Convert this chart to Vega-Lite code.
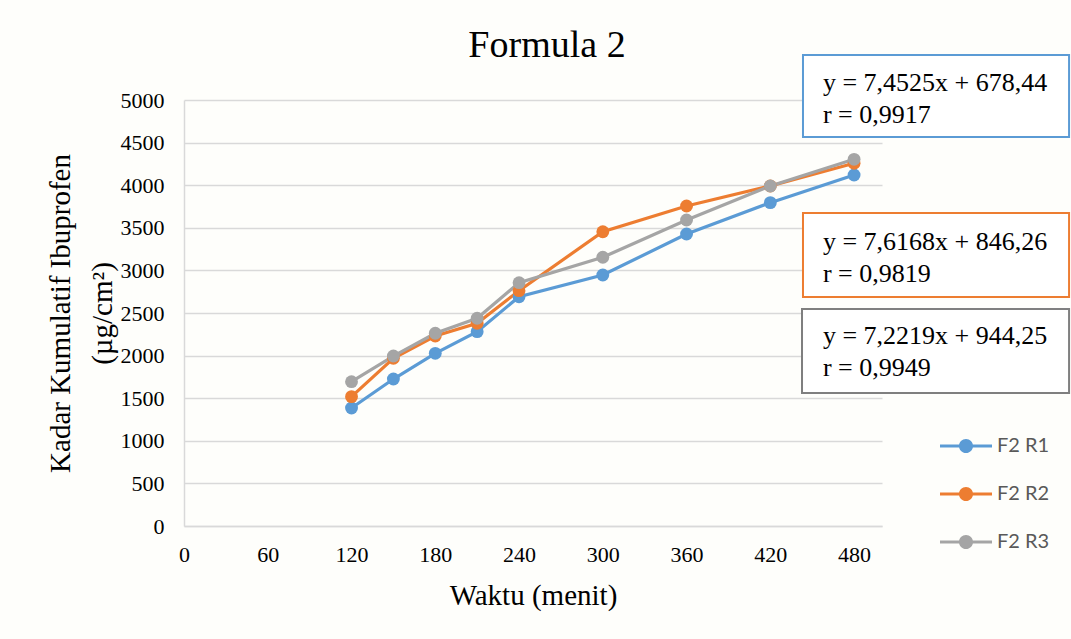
{
  "$schema": "https://vega.github.io/schema/vega-lite/v6.json",
  "width": 698,
  "height": 426,
  "autosize": {"type": "none"},
  "padding": {"left": 184, "top": 100, "right": 189, "bottom": 113},
  "background": "#FEFEFB",
  "title": {"text": "Formula 2", "font": "Liberation Serif", "fontSize": 38, "fontWeight": "normal", "color": "#000000", "anchor": "middle", "dx": 14, "dy": 38, "baseline": "alphabetic", "offset": -3},
  "config": {"view": {"stroke": null}},
  "datasets": {
    "series": [
      {"t": 120, "c": 1385, "series": "F2 R1"},
      {"t": 150, "c": 1725, "series": "F2 R1"},
      {"t": 180, "c": 2027, "series": "F2 R1"},
      {"t": 210, "c": 2281, "series": "F2 R1"},
      {"t": 240, "c": 2691, "series": "F2 R1"},
      {"t": 300, "c": 2946, "series": "F2 R1"},
      {"t": 360, "c": 3427, "series": "F2 R1"},
      {"t": 420, "c": 3795, "series": "F2 R1"},
      {"t": 480, "c": 4120, "series": "F2 R1"},
      {"t": 120, "c": 1518, "series": "F2 R2"},
      {"t": 150, "c": 1968, "series": "F2 R2"},
      {"t": 180, "c": 2230, "series": "F2 R2"},
      {"t": 210, "c": 2379, "series": "F2 R2"},
      {"t": 240, "c": 2762, "series": "F2 R2"},
      {"t": 300, "c": 3454, "series": "F2 R2"},
      {"t": 360, "c": 3756, "series": "F2 R2"},
      {"t": 420, "c": 3991, "series": "F2 R2"},
      {"t": 480, "c": 4257, "series": "F2 R2"},
      {"t": 120, "c": 1694, "series": "F2 R3"},
      {"t": 150, "c": 1995, "series": "F2 R3"},
      {"t": 180, "c": 2262, "series": "F2 R3"},
      {"t": 210, "c": 2438, "series": "F2 R3"},
      {"t": 240, "c": 2856, "series": "F2 R3"},
      {"t": 300, "c": 3154, "series": "F2 R3"},
      {"t": 360, "c": 3592, "series": "F2 R3"},
      {"t": 420, "c": 3991, "series": "F2 R3"},
      {"t": 480, "c": 4304, "series": "F2 R3"}
    ],
    "boxes": [
      {"series": "F2 R1", "x0": 443.4, "x1": 634, "y0": 5528, "y1": 4566, "tx": 457.7, "ty": 5106, "label": "y = 7,4525x + 678,44\nr = 0,9917"},
      {"series": "F2 R2", "x0": 443.4, "x1": 634, "y0": 3674, "y1": 2688, "tx": 457.7, "ty": 3239, "label": "y = 7,6168x + 846,26\nr = 0,9819"},
      {"series": "F2 R3", "x0": 442.7, "x1": 634, "y0": 2547, "y1": 1561, "tx": 457.7, "ty": 2136, "label": "y = 7,2219x + 944,25\nr = 0,9949"}
    ]
  },
  "layer": [
    {
      "data": {"name": "series"},
      "mark": {"type": "line", "strokeWidth": 3.2},
      "encoding": {
        "x": {"field": "t", "type": "quantitative", "title": "Waktu (menit)", "scale": {"domain": [0, 500], "nice": false},
          "axis": {"values": [0, 60, 120, 180, 240, 300, 360, 420, 480], "format": "d", "labelFont": "Liberation Serif", "labelFontSize": 22, "labelColor": "#000000", "ticks": false, "domainColor": "#D9D9D9", "domainWidth": 1.5, "grid": false, "labelPadding": 18, "labelFlush": false, "labelOverlap": false, "titleFont": "Liberation Serif", "titleFontSize": 29, "titleFontWeight": "normal", "titleColor": "#000000", "titlePadding": 16}},
        "y": {"field": "c", "type": "quantitative", "title": ["Kadar Kumulatif Ibuprofen", "(µg/cm²)"], "scale": {"domain": [0, 5000], "nice": false},
          "axis": {"values": [0, 500, 1000, 1500, 2000, 2500, 3000, 3500, 4000, 4500, 5000], "format": "d", "labelFont": "Liberation Serif", "labelFontSize": 22, "labelColor": "#000000", "ticks": false, "domainColor": "#D9D9D9", "domainWidth": 1.5, "grid": true, "gridColor": "#D9D9D9", "gridWidth": 1.5, "labelPadding": 20, "labelFlush": false, "titleFont": "Liberation Serif", "titleFontSize": 29, "titleFontWeight": "normal", "titleColor": "#000000", "titlePadding": 3, "titleLineHeight": 42}},
        "color": {"field": "series", "type": "nominal",
          "scale": {"domain": ["F2 R1", "F2 R2", "F2 R3"], "range": ["#5B9BD5", "#ED7D31", "#A5A5A5"]},
          "legend": {"title": null, "orient": "none", "legendX": 769, "legendY": 333, "padding": 0,
            "symbolType": "M-2,-0.115H2V0.115H-2Z M0.54,0A0.54,0.54,0,1,1,-0.54,0A0.54,0.54,0,1,1,0.54,0Z",
            "symbolSize": 676, "symbolStrokeWidth": 0, "labelFont": "Lato", "labelFontSize": 20, "labelColor": "#595959", "labelOffset": 18, "rowPadding": 25,
            "encode": {"symbols": {"update": {"fill": {"scale": "color", "field": "value"}, "stroke": {"value": "transparent"}, "opacity": {"value": 1}}}}}}
      }
    },
    {
      "data": {"name": "series"},
      "mark": {"type": "point", "filled": true, "size": 165, "opacity": 1},
      "encoding": {
        "x": {"field": "t", "type": "quantitative", "title": "Waktu (menit)", "scale": {"domain": [0, 500], "nice": false}},
        "y": {"field": "c", "type": "quantitative", "title": ["Kadar Kumulatif Ibuprofen", "(µg/cm²)"], "scale": {"domain": [0, 5000], "nice": false}},
        "color": {"field": "series", "type": "nominal"}
      }
    },
    {
      "data": {"name": "boxes"},
      "mark": {"type": "rect", "fill": "#FFFFFF", "strokeWidth": 2},
      "encoding": {
        "x": {"field": "x0", "type": "quantitative", "title": "Waktu (menit)", "scale": {"domain": [0, 500], "nice": false}},
        "x2": {"field": "x1"},
        "y": {"field": "y0", "type": "quantitative", "title": ["Kadar Kumulatif Ibuprofen", "(µg/cm²)"], "scale": {"domain": [0, 5000], "nice": false}},
        "y2": {"field": "y1"},
        "stroke": {"field": "series", "type": "nominal", "scale": {"domain": ["F2 R1", "F2 R2", "F2 R3"], "range": ["#5B9BD5", "#ED7D31", "#7F7F7F"]}, "legend": null}
      }
    },
    {
      "data": {"name": "boxes"},
      "mark": {"type": "text", "align": "left", "baseline": "alphabetic", "font": "Liberation Serif", "fontSize": 26, "lineBreak": "\n", "lineHeight": 32, "color": "#000000"},
      "encoding": {
        "x": {"field": "tx", "type": "quantitative", "title": "Waktu (menit)", "scale": {"domain": [0, 500], "nice": false}},
        "y": {"field": "ty", "type": "quantitative", "title": ["Kadar Kumulatif Ibuprofen", "(µg/cm²)"], "scale": {"domain": [0, 5000], "nice": false}},
        "text": {"field": "label"}
      }
    }
  ]
}
